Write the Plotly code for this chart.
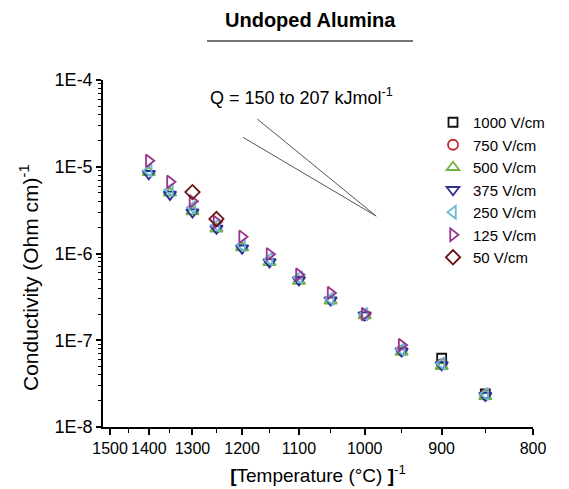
import math
import plotly.graph_objects as go

# ---------------- data ----------------
temps_c = [1400, 1350, 1300, 1250, 1200, 1150, 1100, 1050, 1000, 950, 900, 850]

series_names = ["1000 V/cm", "750 V/cm", "500 V/cm", "375 V/cm", "250 V/cm", "125 V/cm", "50 V/cm"]

t_1000 = [900, 850]
s_1000 = [6.2e-8, 2.4e-8]

t_750 = [1000, 950, 900, 850]
s_750 = [1.95e-7, 7.6e-8, 5.3e-8, 2.35e-8]

t_500 = temps_c
s_500 = [8.6e-6, 5.0e-6, 3.05e-6, 1.92e-6, 1.17e-6, 7.9e-7, 4.8e-7, 2.85e-7, 1.93e-7, 7.3e-8, 5.0e-8, 2.25e-8]

t_375 = temps_c
s_375 = [8.3e-6, 4.8e-6, 3.0e-6, 1.95e-6, 1.15e-6, 8.0e-7, 4.95e-7, 2.9e-7, 1.95e-7, 7.5e-8, 5.2e-8, 2.3e-8]

t_250 = temps_c
s_250 = [9.0e-6, 5.4e-6, 3.4e-6, 2.1e-6, 1.25e-6, 8.6e-7, 5.3e-7, 3.0e-7, 2.0e-7, 7.8e-8, 5.4e-8, 2.4e-8]

t_125 = [1400, 1350, 1300, 1250, 1200, 1150, 1100, 1050, 1000, 950]
s_125 = [1.17e-5, 6.7e-6, 4.0e-6, 2.3e-6, 1.56e-6, 9.8e-7, 5.7e-7, 3.5e-7, 2.0e-7, 8.8e-8]

t_50 = [1300, 1250]
s_50 = [5.1e-6, 2.5e-6]

x_tick_temps = [1500, 1400, 1300, 1200, 1100, 1000, 900, 800]
x_minor_temps = [1450, 1350, 1250, 1150, 1050, 950, 850]
y_tick_vals = [1e-8, 1e-7, 1e-6, 1e-5, 1e-4]
y_tick_text = ["1E-8", "1E-7", "1E-6", "1E-5", "1E-4"]

# activation-energy guide lines
q_values = [150, 207]             # kJ/mol
q_anchor_t = 984                  # degC, common end of the guide lines
q_anchor_s = 2.7e-6
q_start_t = [1198, 1172]          # degC, starting temperature of each line
R_GAS = 8.314e-3                  # kJ/mol/K


def inv_t(t_c):
    return 1.0 / (t_c + 273.0)


styles = [
    ("square-open", "#111111", 9),
    ("circle-open", "#c0282d", 10),
    ("triangle-up-open", "#6fb23f", 11),
    ("triangle-down-open", "#2b2f8f", 11),
    ("triangle-left-open", "#6ab7d8", 11),
    ("triangle-right-open", "#99348f", 11),
    ("diamond-open", "#6a1414", 11),
]
all_t = [t_1000, t_750, t_500, t_375, t_250, t_125, t_50]
all_s = [s_1000, s_750, s_500, s_375, s_250, s_125, s_50]

fig = go.Figure()

for q, ts in zip(q_values, q_start_t):
    x0, x1 = inv_t(ts), inv_t(q_anchor_t)
    y0 = q_anchor_s * math.exp(-q / R_GAS * (x0 - x1))
    fig.add_trace(go.Scatter(x=[x0, x1], y=[y0, q_anchor_s], mode="lines",
                             line=dict(color="#555555", width=1),
                             showlegend=False, hoverinfo="skip"))

for name, (sym, col, sz), tt, ss in zip(series_names, styles, all_t, all_s):
    fig.add_trace(go.Scatter(
        x=[inv_t(t) for t in tt], y=ss, mode="markers", name=name,
        marker=dict(symbol=sym, size=sz, color=col,
                    line=dict(color=col, width=1.8)),
    ))

FONT = "Arial, Liberation Sans, sans-serif"
# page body has an 8px margin: the figure starts at (8, 8) on the page
OFF = 8
PAGE_W, PAGE_H = 569, 489
# plot area wanted on the page: x 103..533, y 80..427
L, R, T, B = 103, 36, 80, 62
PW, PH = PAGE_W - L - R, PAGE_H - T - B


def px_x(px):
    return (px - L) / PW


def px_y(py):
    return (PAGE_H - B - py) / PH


fig.update_layout(
    width=PAGE_W - OFF, height=PAGE_H - OFF,
    margin=dict(l=L - OFF, r=R, t=T - OFF, b=B, autoexpand=False),
    paper_bgcolor="white", plot_bgcolor="white",
    font=dict(family=FONT, color="black", size=16),
    showlegend=True,
    legend=dict(x=px_x(433), y=px_y(106), xanchor="left", yanchor="top",
                font=dict(size=15, family=FONT), bgcolor="rgba(0,0,0,0)",
                tracegroupgap=0, itemwidth=30),
    xaxis=dict(
        range=[5.579e-4, inv_t(800)],
        automargin=False,
        tickmode="array",
        tickvals=[inv_t(t) for t in x_tick_temps],
        ticktext=[str(t) for t in x_tick_temps],
        tickangle=0,
        ticks="outside", ticklen=6, tickwidth=1.5, tickcolor="black",
        showline=True, linecolor="black", linewidth=1.5,
        showgrid=False, zeroline=False,
        tickfont=dict(size=16, family=FONT),
        minor=dict(tickmode="array", tickvals=[inv_t(t) for t in x_minor_temps],
                   ticks="outside", ticklen=4, tickwidth=1.2, tickcolor="black",
                   showgrid=False),
        title=dict(text="<b>[</b>Temperature (°C) <b>]</b><sup>-1</sup>",
                   font=dict(size=19, family=FONT), standoff=13),
    ),
    yaxis=dict(
        type="log", range=[-8, -4],
        automargin=False,
        tickmode="array", tickvals=y_tick_vals, ticktext=y_tick_text,
        ticks="outside", ticklen=5, tickwidth=1.5, tickcolor="black",
        showline=True, linecolor="black", linewidth=1.5,
        showgrid=False, zeroline=False,
        tickfont=dict(size=18, family=FONT),
        minor=dict(tickmode="array",
                   tickvals=[m * 10.0 ** e for e in range(-8, -4) for m in range(2, 10)],
                   ticks="outside", ticklen=3, tickwidth=1, tickcolor="black",
                   showgrid=False),
    ),
    annotations=[
        dict(text="<b>Undoped Alumina</b>", x=px_x(310), y=px_y(20),
             xref="paper", yref="paper", xanchor="center", yanchor="middle",
             showarrow=False, font=dict(size=20, family=FONT)),
        dict(text="Conductivity (Ohm cm)<sup>-1</sup>", textangle=-90,
             x=px_x(29), y=px_y(278), xref="paper", yref="paper",
             xanchor="center", yanchor="middle", showarrow=False,
             font=dict(size=21, family=FONT)),
        dict(text="Q = 150 to 207 kJmol<sup>-1</sup>", x=px_x(301), y=px_y(97),
             xref="paper", yref="paper", xanchor="center", yanchor="middle",
             showarrow=False, font=dict(size=18, family=FONT)),
    ],
    shapes=[
        dict(type="line", xref="paper", yref="paper", x0=px_x(207), x1=px_x(413),
             y0=px_y(41), y1=px_y(41), line=dict(color="#777777", width=2)),
    ],
)

fig.write_html("out.html")
